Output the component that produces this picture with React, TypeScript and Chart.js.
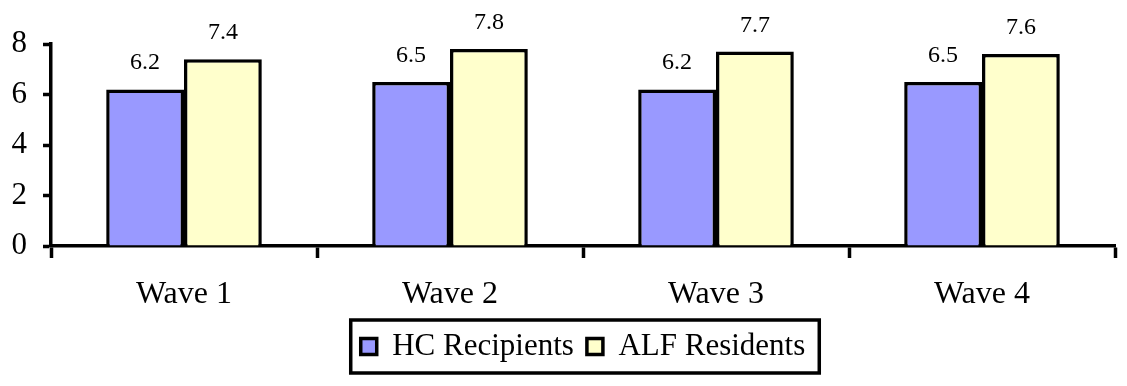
import React, { useEffect, useRef } from "react";
import { Chart, registerables } from "chart.js";

Chart.register(...registerables);

const categories = ["Wave 1", "Wave 2", "Wave 3", "Wave 4"];
const hcValues = [6.2, 6.5, 6.2, 6.5];
const alfValues = [7.4, 7.8, 7.7, 7.6];
const seriesNames = ["HC Recipients", "ALF Residents"];
const yTickValues = [0, 2, 4, 6, 8];

const FONT = "'Liberation Serif', 'Times New Roman', serif";

const valueLabels = {
  id: "valueLabels",
  afterDatasetsDraw(chart: any) {
    const ctx = chart.ctx;
    ctx.save();
    ctx.font = `24px ${FONT}`;
    ctx.fillStyle = "#000";
    ctx.textAlign = "center";
    ctx.textBaseline = "alphabetic";
    chart.data.datasets.forEach((ds: any, di: number) => {
      const meta = chart.getDatasetMeta(di);
      meta.data.forEach((bar: any, i: number) => {
        ctx.fillText(Number(ds.data[i]).toFixed(1), bar.x, bar.y - 20);
      });
    });
    ctx.restore();
  },
};

const legendBorder = {
  id: "legendBorder",
  afterDraw(chart: any) {
    const lg = chart.legend;
    if (!lg || !lg.legendHitBoxes || !lg.legendHitBoxes.length) return;
    const boxes = lg.legendHitBoxes;
    const left = Math.min(...boxes.map((b: any) => b.left)) - 10;
    const right = Math.max(...boxes.map((b: any) => b.left + b.width)) + 14;
    const top = Math.min(...boxes.map((b: any) => b.top));
    const bottom = Math.max(...boxes.map((b: any) => b.top + b.height));
    const cy = (top + bottom) / 2;
    const ctx = chart.ctx;
    ctx.save();
    ctx.strokeStyle = "#000";
    ctx.lineWidth = 3.5;
    ctx.strokeRect(left, cy - 26.5, right - left, 53);
    ctx.restore();
  },
};

export default function App() {
  const ref = useRef<HTMLCanvasElement | null>(null);

  useEffect(() => {
    if (!ref.current) return;
    const chart = new Chart(ref.current, {
      type: "bar",
      data: {
        labels: categories,
        datasets: [
          {
            label: seriesNames[0],
            data: hcValues,
            backgroundColor: "#9999FF",
            borderColor: "#000000",
            borderWidth: 3.5,
            borderSkipped: "bottom",
          },
          {
            label: seriesNames[1],
            data: alfValues,
            backgroundColor: "#FFFFCC",
            borderColor: "#000000",
            borderWidth: 3.5,
            borderSkipped: "bottom",
          },
        ],
      },
      options: {
        responsive: false,
        animation: false,
        devicePixelRatio: 1,
        categoryPercentage: 0.585,
        barPercentage: 1,
        layout: { padding: { top: 44, right: 12, bottom: 14, left: 0 } },
        plugins: {
          tooltip: { enabled: false },
          legend: {
            display: true,
            position: "bottom",
            fullSize: false,
            labels: {
              boxWidth: 16,
              boxHeight: 16,
              padding: 13,
              color: "#000",
              font: { family: FONT, size: 31 },
            },
          },
        },
        scales: {
          x: {
            grid: {
              offset: true,
              drawOnChartArea: false,
              drawTicks: true,
              tickLength: 12,
              tickWidth: 3.5,
              tickColor: "#000",
              color: "#000",
            },
            border: { display: true, color: "#000", width: 3.5 },
            ticks: {
              color: "#000",
              padding: 17,
              font: { family: FONT, size: 32 },
            },
            afterFit: (s: any) => {
              s.height = 72;
            },
          },
          y: {
            min: 0,
            max: 8,
            grid: {
              drawOnChartArea: false,
              drawTicks: true,
              tickLength: 8,
              tickWidth: 3.5,
              tickColor: "#000",
              color: "#000",
            },
            border: { display: true, color: "#000", width: 3.5 },
            ticks: {
              color: "#000",
              padding: 16,
              font: { family: FONT, size: 31 },
            },
            afterBuildTicks: (s: any) => {
              s.ticks = yTickValues.map((v) => ({ value: v }));
            },
            afterFit: (s: any) => {
              s.width = 51;
            },
          },
        },
      },
      plugins: [valueLabels, legendBorder],
    });
    return () => chart.destroy();
  }, []);

  return (
    <div style={{ position: "fixed", left: 0, top: 0, width: 1127, height: 386, background: "#fff" }}>
      <canvas ref={ref} width={1127} height={386} />
    </div>
  );
}
